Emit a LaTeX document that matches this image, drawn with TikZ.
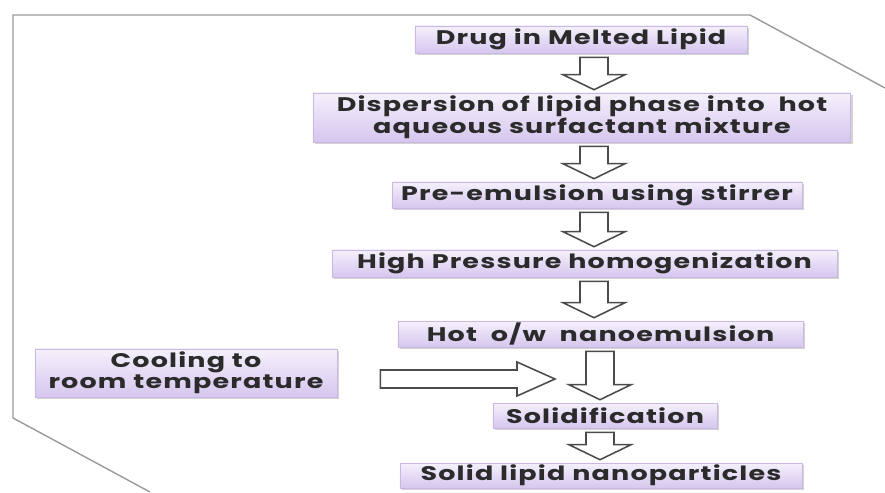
\documentclass[tikz,border=0pt]{standalone}
\usepackage{fontspec}
\setmainfont{Poppins}[FakeStretch=1.37,LetterSpace=6]
\usetikzlibrary{calc,shadows}

\definecolor{ink}{HTML}{2B2B2B}
\definecolor{lilactop}{HTML}{F5F0FC}
\definecolor{lilacbot}{HTML}{D6C6EE}
\definecolor{lilacline}{HTML}{C9B8E2}
\definecolor{framegray}{HTML}{9A9A9A}

% block arrow from node #1 down to node #2, centred on the column of #3
\newcommand\blockdown[3]{%
  \draw[blk] ($(#1.south -| #3)+(-14,4)$) -- ($(#2.north -| #3)+(-14,-18)$)
    -- ($(#2.north -| #3)+(-31,-18)$) -- ($(#2.north -| #3)+(0,-3)$)
    -- ($(#2.north -| #3)+(31,-18)$) -- ($(#2.north -| #3)+(14,-18)$)
    -- ($(#1.south -| #3)+(14,4)$) -- cycle;}

\begin{document}
\begin{tikzpicture}[x=0.025cm,y=-0.025cm,font=\bfseries\fontsize{14}{14.8}\selectfont,
 stage/.style={draw=lilacline,top color=lilactop,bottom color=lilacbot,text=ink,align=center,
   inner sep=0pt,drop shadow={shadow xshift=1.5pt,shadow yshift=-1.5pt,opacity=.35}},
 blk/.style={draw=ink!85,line width=1.1pt,fill=white,line join=miter},
 frame/.style={draw=framegray,line width=1pt}]
\useasboundingbox (0,0) rectangle (885,492);

% outline of the panel
\draw[frame] (885,88) -- (750,15) -- (13,15) -- (13,418) -- (150,492);

\coordinate (col) at (594,0);
\coordinate (colb) at (600,0);

\node[stage,minimum width=8.3cm,minimum height=.675cm] (drug) at (581,39.5) {Drug in Melted Lipid};
\node[stage,minimum width=13.43cm,minimum height=1.225cm] (disp) at (582,117.5) {Dispersion of lipid phase into\ \ hot\\aqueous surfactant mixture};
\node[stage,minimum width=10.25cm,minimum height=.65cm] (pre) at (597,195) {Pre-emulsion using stirrer};
\node[stage,minimum width=12.63cm,minimum height=.675cm] (hph) at (584.5,263.5) {High Pressure homogenization};
\node[stage,minimum width=10.13cm,minimum height=.65cm] (hot) at (600.5,334) {Hot\ \ o/w\ \ nanoemulsion};
\node[stage,minimum width=7.55cm,minimum height=1.2cm] (cool) at (186,373) {Cooling to\\room temperature};
\node[stage,minimum width=5.6cm,minimum height=.625cm] (solid) at (605,415.5) {Solidification};
\node[stage,minimum width=10.05cm,minimum height=.625cm] (sln) at (601,475.5) {Solid lipid nanoparticles};

\blockdown{drug}{disp}{col}
\blockdown{disp}{pre}{col}
\blockdown{pre}{hph}{col}
\blockdown{hph}{hot}{col}
\blockdown{hot}{solid}{colb}
\blockdown{solid}{sln}{colb}

% cooling arrow, free end beside the column
\coordinate (merge) at (555,379);
\draw[blk] ($(cool.east)+(43,-3)$) -- ($(merge)+(-38,-9)$) -- ($(merge)+(-38,-17)$) -- (merge)
  -- ($(merge)+(-38,17)$) -- ($(merge)+(-38,9)$) -- ($(cool.east)+(43,15)$) -- cycle;
\end{tikzpicture}
\end{document}
